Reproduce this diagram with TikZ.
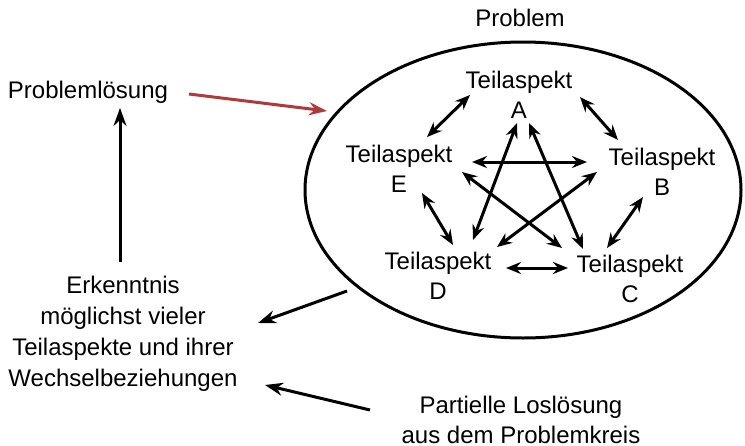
\documentclass[tikz,border=0pt]{standalone}
\usepackage{fontspec}
\setmainfont{Liberation Sans}
\usetikzlibrary{arrows.meta,shapes.geometric}
\definecolor{redarrow}{HTML}{B03A3A}
\begin{document}
\begin{tikzpicture}[x=1pt,y=-1pt,
  lbl/.style={font=\fontsize{24}{30}\selectfont, align=center, inner sep=0pt},
  tip/.tip={Stealth[length=15pt,width=12pt,inset=5pt]},
  bigtip/.tip={Stealth[length=18pt,width=13pt,inset=6pt]},
  conn/.style={line width=3pt, -bigtip},
  biconn/.style={line width=3pt, tip-tip}]
\useasboundingbox (0,0) rectangle (745,445);
\node[draw, line width=3pt, ellipse, minimum width=436pt, minimum height=296pt, inner sep=0pt] (prob) at (523,190) {};
\node[lbl] (problbl) at (520,18) {Problem};
\node[lbl] (A) at (519,95) {Teilaspekt\\A};
\node[lbl] (B) at (662,172) {Teilaspekt\\B};
\node[lbl] (C) at (630,279) {Teilaspekt\\C};
\node[lbl] (D) at (438,276) {Teilaspekt\\D};
\node[lbl] (E) at (399,169) {Teilaspekt\\E};
\node[lbl] (sol) at (88,92) {Problemlösung};
\node[lbl, font=\fontsize{24}{31}\selectfont] (erk) at (123,334) {Erkenntnis\\möglichst vieler\\Teilaspekte und ihrer\\Wechselbeziehungen};
\node[lbl] (part) at (521,420) {Partielle Loslösung\\aus dem Problemkreis};
% endpoints
\coordinate (ae1) at (470,95);  \coordinate (ae2) at (427,137);
\coordinate (ab1) at (580,97);  \coordinate (ab2) at (618,140);
\coordinate (eb1) at (472,162); \coordinate (eb2) at (587,162);
\coordinate (ad1) at (517,123); \coordinate (ad2) at (473,240);
\coordinate (ac1) at (529,123); \coordinate (ac2) at (583,249);
\coordinate (ec1) at (462,172); \coordinate (ec2) at (562,248);
\coordinate (bd1) at (597,172); \coordinate (bd2) at (497,247);
\coordinate (ed1) at (422,193); \coordinate (ed2) at (453,245);
\coordinate (bc1) at (643,197); \coordinate (bc2) at (607,248);
\coordinate (dc1) at (506,268); \coordinate (dc2) at (568,268);
\coordinate (r1) at (189,94);   \coordinate (r2) at (327,111);
\coordinate (u1) at (120,262);  \coordinate (u2) at (120,108);
\coordinate (k1) at (347,291);  \coordinate (k2) at (258,323);
\coordinate (p1) at (370,410);  \coordinate (p2) at (265,385);
\draw[biconn] (ae1) -- (ae2);
\draw[biconn] (ab1) -- (ab2);
\draw[biconn] (eb1) -- (eb2);
\draw[biconn] (ad1) -- (ad2);
\draw[biconn] (ac1) -- (ac2);
\draw[biconn] (ec1) -- (ec2);
\draw[biconn] (bd1) -- (bd2);
\draw[biconn] (ed1) -- (ed2);
\draw[biconn] (bc1) -- (bc2);
\draw[biconn] (dc1) -- (dc2);
\draw[conn, redarrow] (r1) -- (r2);
\draw[conn] (u1) -- (u2);
\draw[conn] (k1) -- (k2);
\draw[conn] (p1) -- (p2);
\end{tikzpicture}
\end{document}
